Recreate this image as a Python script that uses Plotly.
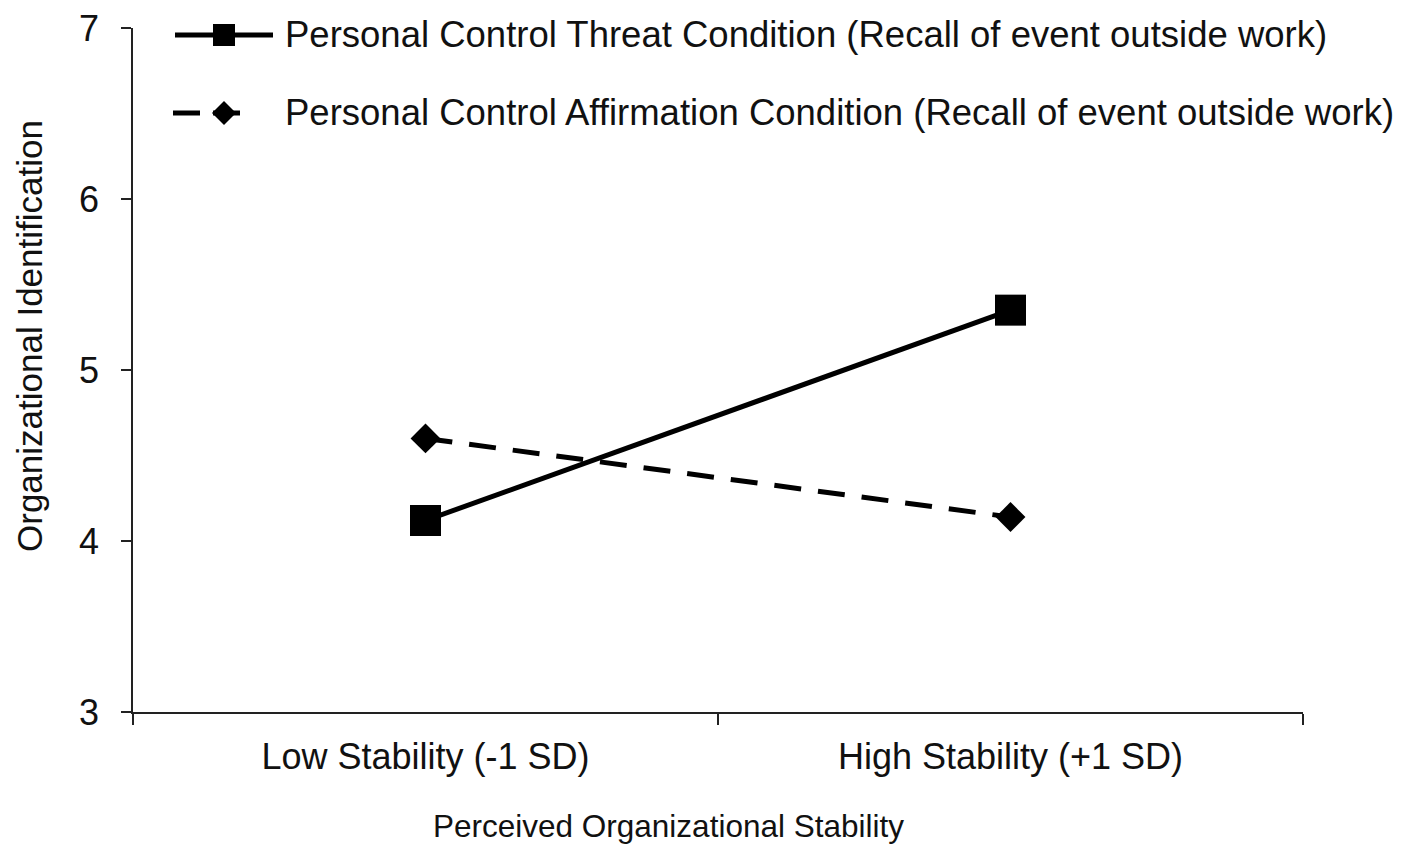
import plotly.graph_objects as go

categories = ["Low Stability (-1 SD)", "High Stability (+1 SD)"]
threat_values = [4.12, 5.35]
affirm_values = [4.60, 4.14]
series_names = [
    "Personal Control Threat Condition (Recall of event outside work)",
    "Personal Control Affirmation Condition (Recall of event outside work)",
]
y_ticks = [3, 4, 5, 6, 7]
x_title = "Perceived Organizational Stability"
y_title = "Organizational Identification"

FONT = "Liberation Sans, Arial, sans-serif"
OFF = 8  # page body margin
W, H = 1410 - OFF, 852 - OFF
L, R, T, B = 133 - OFF, 107, 28 - OFF, 140
PW, PH = W - L - R, H - T - B
FS = 36


def px(x):
    # x in page pixels -> paper
    return (x - OFF - L) / PW


def py(y):
    return (H - B - (y - OFF)) / PH


fig = go.Figure()
fig.add_trace(go.Scatter(
    x=categories, y=threat_values, mode="lines+markers", name=series_names[0],
    line=dict(color="black", width=5),
    marker=dict(symbol="square", size=31, color="black"),
    showlegend=False,
))
fig.add_trace(go.Scatter(
    x=categories, y=affirm_values, mode="lines+markers", name=series_names[1],
    line=dict(color="black", width=5, dash="27px,17px"),
    marker=dict(symbol="diamond", size=23, color="black"),
    showlegend=False,
))

shapes = []
annotations = []
# Custom legend (long symbol lines like the reference)
row_y = [35, 113]
shapes.append(dict(type="line", xref="paper", yref="paper",
                   x0=px(175), x1=px(273), y0=py(row_y[0]), y1=py(row_y[0]),
                   line=dict(color="black", width=5)))
shapes.append(dict(type="rect", xref="paper", yref="paper",
                   x0=px(213), x1=px(235), y0=py(row_y[0] + 11), y1=py(row_y[0] - 11),
                   fillcolor="black", line=dict(width=0)))
shapes.append(dict(type="line", xref="paper", yref="paper",
                   x0=px(173), x1=px(250), y0=py(row_y[1]), y1=py(row_y[1]),
                   line=dict(color="black", width=5, dash="27px,13px")))
cx, cy = 224, row_y[1]
shapes.append(dict(type="path", xref="paper", yref="paper",
                   path=(f"M {px(cx-12)} {py(cy)} L {px(cx)} {py(cy-12)} "
                         f"L {px(cx+12)} {py(cy)} L {px(cx)} {py(cy+12)} Z"),
                   fillcolor="black", line=dict(width=0)))
for name, ry in zip(series_names, row_y):
    annotations.append(dict(text=name, xref="paper", yref="paper",
                            x=px(283), y=py(ry), xanchor="left", yanchor="middle",
                            showarrow=False, font=dict(size=36.5, color="#111", family=FONT)))

annotations.append(dict(text=y_title, xref="paper", yref="paper",
                        x=px(29), y=py(336), xanchor="center", yanchor="middle",
                        textangle=-90, showarrow=False,
                        font=dict(size=35, color="#111", family=FONT)))
annotations.append(dict(text=x_title, xref="paper", yref="paper",
                        x=px(668), y=py(826), xanchor="center", yanchor="middle",
                        showarrow=False, font=dict(size=31.5, color="#111", family=FONT)))

fig.update_layout(
    width=W, height=H,
    margin=dict(l=L, r=R, t=T, b=B, autoexpand=False),
    paper_bgcolor="white", plot_bgcolor="white",
    font=dict(family=FONT, size=FS, color="#111"),
    shapes=shapes, annotations=annotations,
    showlegend=False,
)
fig.update_xaxes(
    type="category", range=[-0.5, 1.5], tickson="boundaries",
    ticks="outside", ticklen=11, tickwidth=1.5, tickcolor="#222",
    showline=True, linecolor="#222", linewidth=1.5,
    showgrid=False, zeroline=False, ticklabelstandoff=12, automargin=False,
    tickfont=dict(size=FS, family=FONT, color="#111"),
)
fig.update_yaxes(
    range=[3, 7], tickvals=y_ticks, ticks="outside", ticklen=10, tickwidth=1.5,
    tickcolor="#222", showline=True, linecolor="#222", linewidth=1.5,
    showgrid=False, zeroline=False, ticklabelstandoff=15, automargin=False,
    ticklabeloverflow="allow",
    tickfont=dict(size=FS, family=FONT, color="#111"),
)

fig.write_html("out.html")
